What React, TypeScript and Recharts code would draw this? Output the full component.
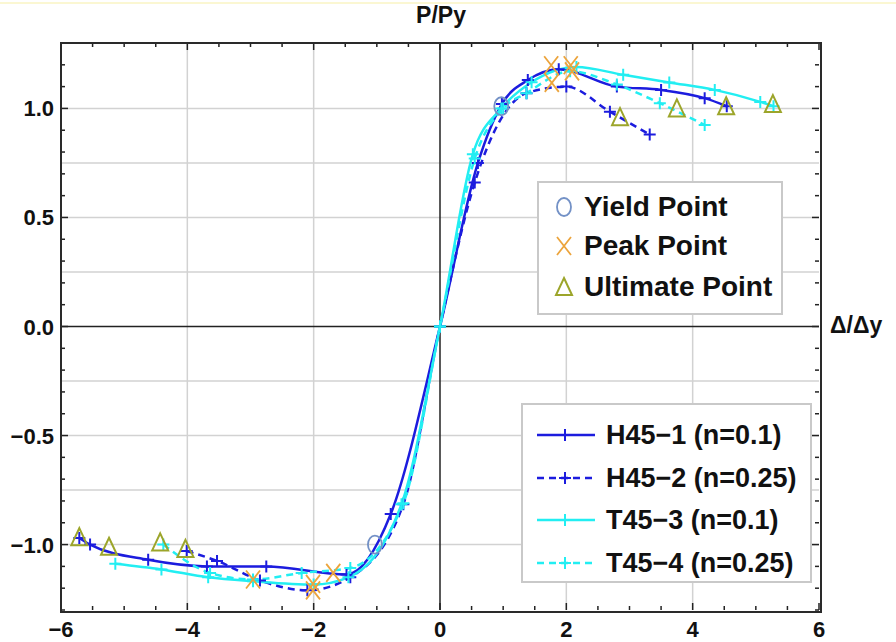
import React from 'react';
import { ComposedChart, Line, Scatter, XAxis, YAxis, ReferenceLine } from 'recharts';

// series values (Δ/Δy, P/Py)
const h451X = [-5.71, -5.54, -4.62, -3.69, -2.75, -1.48, -0.78, 0, 0.6, 0.98, 1.39, 1.88, 2.8, 3.5, 4.19, 4.54];
const h451Y = [-0.97, -1.0, -1.07, -1.1, -1.1, -1.137, -0.86, 0, 0.75, 1.02, 1.13, 1.18, 1.1, 1.085, 1.047, 1.01];

const h452X = [-4.01, -3.53, -2.85, -2.1, -1.42, -0.58, 0, 0.55, 1.37, 2.0, 2.69, 3.32];
const h452Y = [-1.03, -1.075, -1.165, -1.21, -1.15, -0.815, 0, 0.66, 1.07, 1.1, 0.985, 0.88];

const t453X = [-5.14, -4.41, -3.67, -2.96, -2.0, -1.45, -0.61, 0, 0.52, 0.97, 1.45, 2.16, 2.9, 3.63, 4.35, 5.07, 5.28];
const t453Y = [-1.088, -1.114, -1.15, -1.168, -1.183, -1.15, -0.815, 0, 0.79, 1.0, 1.12, 1.19, 1.154, 1.119, 1.085, 1.03, 1.01];

const t454X = [-4.38, -3.64, -2.96, -2.19, -1.42, -0.58, 0, 0.55, 1.0, 1.37, 2.06, 2.8, 3.48, 4.19];
const t454Y = [-1.0, -1.13, -1.16, -1.13, -1.107, -0.81, 0, 0.77, 1.0, 1.07, 1.17, 1.11, 1.024, 0.924];

const yieldX = [0.97, -1.03];
const yieldY = [1.01, -1.0];
const peakX = [1.76, 2.07, 1.77, 2.09, -2.96, -2.01, -1.69, -2.01];
const peakY = [1.198, 1.198, 1.117, 1.17, -1.16, -1.18, -1.13, -1.21];
const ultX = [2.85, 3.75, 4.53, 5.27, -5.71, -5.24, -4.43, -4.03];
const ultY = [0.96, 1.0, 1.01, 1.02, -0.966, -1.01, -0.99, -1.02];

const seriesNames = ['H45\u22121 (n=0.1)', 'H45\u22122 (n=0.25)', 'T45\u22123 (n=0.1)', 'T45\u22124 (n=0.25)'];
const markerNames = ['Yield Point', 'Peak Point', 'Ultimate Point'];
const xLabels = [-6, -4, -2, 0, 2, 4, 6];
const yLabels = [-1.0, -0.5, 0.0, 0.5, 1.0];
const xGrid = [-4, -2, 2, 4];
const yGrid = [-1, -0.75, -0.5, -0.25, 0.25, 0.5, 0.75, 1];

const BLUE = '#1c1cde';
const CYAN = '#22eef2';
const C_YIELD = '#7391c6';
const C_PEAK = '#eca43c';
const C_ULT = '#9ca52a';
const FONT = '"Liberation Sans", Arial, sans-serif';

const pts = (xs: number[], ys: number[]) => xs.map((x, i) => ({ x, y: ys[i] }));

const xTicks = Array.from({ length: 25 }, (_, k) => (k - 12) / 2);
const yTicks = Array.from({ length: 27 }, (_, k) => (k - 13) / 10);

const fmtY = (v: number) => v.toFixed(1).replace('-', '\u2212');
const fmtX = (v: number) => String(v).replace('-', '\u2212');

const isMajorX = (v: number) => xLabels.some((l) => Math.abs(l - v) < 1e-6);
const isMajorY = (v: number) => yLabels.some((l) => Math.abs(l - v) < 1e-6);

const labelStyle = { fontFamily: FONT, fontWeight: 700, fontSize: 22, fill: '#111' };

const BottomTick = (p: any) => {
  const { x, y, payload } = p;
  const major = isMajorX(payload.value);
  return (
    <g>
      <line x1={x} x2={x} y1={y} y2={y - (major ? 7 : 4)} stroke="#222" strokeWidth={1.5} />
      {major && (
        <text x={x} y={y + 27} textAnchor="middle" style={labelStyle}>
          {fmtX(payload.value)}
        </text>
      )}
    </g>
  );
};

const TopTick = (p: any) => {
  const { x, y, payload } = p;
  const major = isMajorX(payload.value);
  return <line x1={x} x2={x} y1={y} y2={y + (major ? 7 : 4)} stroke="#222" strokeWidth={1.5} />;
};

const LeftTick = (p: any) => {
  const { x, y, payload } = p;
  const major = isMajorY(payload.value);
  return (
    <g>
      <line x1={x} x2={x + (major ? 7 : 4)} y1={y} y2={y} stroke="#222" strokeWidth={1.5} />
      {major && (
        <text x={x - 7} y={y + 8} textAnchor="end" style={labelStyle}>
          {fmtY(payload.value)}
        </text>
      )}
    </g>
  );
};

const RightTick = (p: any) => {
  const { x, y, payload } = p;
  const major = isMajorY(payload.value);
  return <line x1={x} x2={x - (major ? 7 : 4)} y1={y} y2={y} stroke="#222" strokeWidth={1.5} />;
};

const plus = (color: string) => (p: any) => {
  const { cx, cy, index } = p;
  if (cx == null || cy == null) return <g key={index} />;
  return (
    <path key={index} d={`M${cx - 6},${cy}H${cx + 6}M${cx},${cy - 6}V${cy + 6}`} stroke={color} strokeWidth={2} fill="none" />
  );
};

const yieldGlyph = (cx: number, cy: number) => (
  <ellipse cx={cx} cy={cy} rx={7} ry={9} fill="none" stroke={C_YIELD} strokeWidth={1.8} />
);
const peakGlyph = (cx: number, cy: number) => (
  <path d={`M${cx - 7},${cy - 9}L${cx + 7},${cy + 9}M${cx + 7},${cy - 9}L${cx - 7},${cy + 9}`} stroke={C_PEAK} strokeWidth={1.8} fill="none" />
);
const ultGlyph = (cx: number, cy: number) => (
  <path d={`M${cx},${cy - 9}L${cx + 8},${cy + 8}L${cx - 8},${cy + 8}Z`} stroke={C_ULT} strokeWidth={2} fill="none" />
);

const YieldShape = (p: any) => yieldGlyph(p.cx, p.cy);
const PeakShape = (p: any) => peakGlyph(p.cx, p.cy);
const UltShape = (p: any) => ultGlyph(p.cx, p.cy);

const lineDefs = [
  { data: pts(h451X, h451Y), color: BLUE, dash: undefined },
  { data: pts(h452X, h452Y), color: BLUE, dash: '7 5' },
  { data: pts(t453X, t453Y), color: CYAN, dash: undefined },
  { data: pts(t454X, t454Y), color: CYAN, dash: '7 5' },
];

const markerGlyphs = [yieldGlyph, peakGlyph, ultGlyph];

const textStyle: React.CSSProperties = {
  fontFamily: FONT,
  fontWeight: 700,
  color: '#111',
  position: 'absolute',
  whiteSpace: 'nowrap',
  lineHeight: 1,
};

export default function App() {
  return (
    <div style={{ position: 'absolute', left: 0, top: 0, width: 896, height: 642, background: '#fff', overflow: 'hidden' }}>
      <div style={{ position: 'absolute', left: 0, top: 2, width: 896, height: 2, background: '#fbf7d2' }} />
      <ComposedChart width={896} height={642} margin={{ top: 42, right: 76, bottom: 31, left: 60 }}>
        <XAxis xAxisId="b" type="number" dataKey="x" domain={[-6, 6]} allowDataOverflow ticks={xTicks} interval={0}
          height={1} tickSize={0} tickMargin={0} axisLine={false} tickLine={false} tick={BottomTick} />
        <XAxis xAxisId="t" orientation="top" type="number" dataKey="x" domain={[-6, 6]} allowDataOverflow ticks={xTicks} interval={0}
          height={1} tickSize={0} tickMargin={0} axisLine={false} tickLine={false} tick={TopTick} />
        <YAxis yAxisId="l" type="number" dataKey="y" domain={[-1.3, 1.3]} allowDataOverflow ticks={yTicks} interval={0}
          width={1} tickSize={0} tickMargin={0} axisLine={false} tickLine={false} tick={LeftTick} />
        <YAxis yAxisId="r" orientation="right" type="number" dataKey="y" domain={[-1.3, 1.3]} allowDataOverflow ticks={yTicks} interval={0}
          width={1} tickSize={0} tickMargin={0} axisLine={false} tickLine={false} tick={RightTick} />

        {xGrid.map((v) => (
          <ReferenceLine key={'gx' + v} xAxisId="b" yAxisId="l" x={v} stroke="#d2d2d2" strokeWidth={1.5} />
        ))}
        {yGrid.map((v) => (
          <ReferenceLine key={'gy' + v} xAxisId="b" yAxisId="l" y={v} stroke="#d2d2d2" strokeWidth={1.5} />
        ))}
        <ReferenceLine xAxisId="b" yAxisId="l" x={0} stroke="#222" strokeWidth={1.5} />
        <ReferenceLine xAxisId="b" yAxisId="l" y={0} stroke="#222" strokeWidth={1.5} />

        {lineDefs.map((s, i) => (
          <Line
            key={'s' + i}
            xAxisId="b"
            yAxisId="l"
            data={s.data}
            dataKey="y"
            type="monotone"
            stroke={s.color}
            strokeWidth={2.5}
            strokeDasharray={s.dash}
            dot={plus(s.color)}
            activeDot={false}
            isAnimationActive={false}
          />
        ))}

        <Scatter xAxisId="b" yAxisId="l" data={pts(yieldX, yieldY)} dataKey="y" shape={YieldShape} isAnimationActive={false} />
        <Scatter xAxisId="b" yAxisId="l" data={pts(peakX, peakY)} dataKey="y" shape={PeakShape} isAnimationActive={false} />
        <Scatter xAxisId="b" yAxisId="l" data={pts(ultX, ultY)} dataKey="y" shape={UltShape} isAnimationActive={false} />
      </ComposedChart>

      {/* plot frame */}
      <div style={{ position: 'absolute', left: 60, top: 42, width: 758, height: 567, border: '2px solid #2a2a2a', pointerEvents: 'none' }} />

      <div style={{ ...textStyle, fontSize: 23, left: 441, top: 4, transform: 'translateX(-50%)' }}>P/Py</div>
      <div style={{ ...textStyle, fontSize: 23, left: 830, top: 314 }}>Δ/Δy</div>

      {/* marker legend */}
      <div style={{ position: 'absolute', left: 537, top: 181, width: 242, height: 130, border: '2px solid #c9c9c9', background: '#fff' }}>
        {markerNames.map((name, i) => (
          <div key={name} style={{ position: 'absolute', left: 0, top: [24, 63, 104][i] - 14, height: 28, width: 240 }}>
            <svg width={40} height={28} style={{ position: 'absolute', left: 5, top: 0 }}>
              {markerGlyphs[i](20, 14)}
            </svg>
            <div style={{ ...textStyle, fontSize: 28, left: 45, top: 0 }}>{name}</div>
          </div>
        ))}
      </div>

      {/* series legend */}
      <div style={{ position: 'absolute', left: 521, top: 403, width: 287, height: 176, border: '2px solid #c9c9c9', background: '#fff' }}>
        {lineDefs.map((s, i) => (
          <div key={'l' + i} style={{ position: 'absolute', left: 0, top: [30, 73, 115, 158][i] - 16, height: 32, width: 285 }}>
            <svg width={80} height={32} style={{ position: 'absolute', left: 0, top: 0 }}>
              <line x1={14} x2={72} y1={16} y2={16} stroke={s.color} strokeWidth={2.5} strokeDasharray={s.dash} />
              <path d="M42,10V22M36,16H48" stroke={s.color} strokeWidth={2} />
            </svg>
            <div style={{ ...textStyle, fontSize: 27, left: 83, top: 3 }}>{seriesNames[i]}</div>
          </div>
        ))}
      </div>
    </div>
  );
}
